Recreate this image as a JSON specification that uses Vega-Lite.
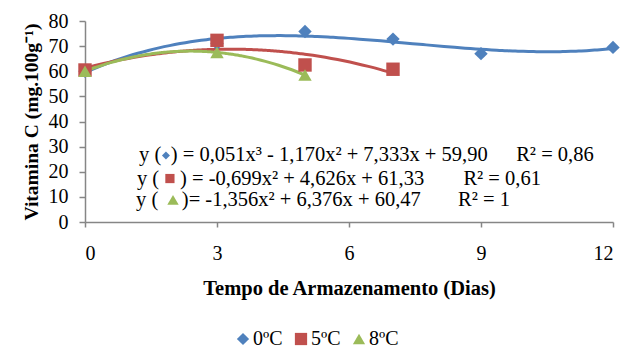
{
  "$schema": "https://vega.github.io/schema/vega-lite/v6.json",
  "autosize": "none",
  "width": 528,
  "height": 201,
  "padding": {"left": 85, "top": 21, "right": 11, "bottom": 128},
  "background": "white",
  "config": {
    "view": {"stroke": null},
    "font": "Liberation Serif",
    "axis": {"grid": false}
  },
  "datasets": {
    "obs": [
      {"dia": 0, "vc": 60.0, "serie": "0ºC"},
      {"dia": 3, "vc": 71.0, "serie": "0ºC"},
      {"dia": 5, "vc": 75.8, "serie": "0ºC"},
      {"dia": 7, "vc": 72.8, "serie": "0ºC"},
      {"dia": 9, "vc": 67.0, "serie": "0ºC"},
      {"dia": 12, "vc": 69.5, "serie": "0ºC"},
      {"dia": 0, "vc": 60.5, "serie": "5ºC"},
      {"dia": 3, "vc": 72.3, "serie": "5ºC"},
      {"dia": 5, "vc": 62.5, "serie": "5ºC"},
      {"dia": 7, "vc": 60.8, "serie": "5ºC"},
      {"dia": 0, "vc": 60.0, "serie": "8ºC"},
      {"dia": 3, "vc": 67.5, "serie": "8ºC"},
      {"dia": 5, "vc": 58.5, "serie": "8ºC"}
    ],
    "notes": [
      {"dia": 1.23, "vc": 26.5, "label": "y ("},
      {"dia": 1.95, "vc": 26.5, "label": ") = 0,051x³ - 1,170x² + 7,333x + 59,90"},
      {"dia": 9.8, "vc": 26.5, "label": "R² = 0,86"},
      {"dia": 1.18, "vc": 17.3, "label": "y  ("},
      {"dia": 2.16, "vc": 17.3, "label": ") = -0,699x² + 4,626x + 61,33"},
      {"dia": 8.6, "vc": 17.3, "label": "R² = 0,61"},
      {"dia": 1.16, "vc": 8.8, "label": "y  ("},
      {"dia": 2.2, "vc": 8.8, "label": ")= -1,356x² + 6,376x + 60,47"},
      {"dia": 8.48, "vc": 8.8, "label": "R² = 1"}
    ],
    "syms": [
      {"dia": 1.84, "vc": 26.5, "serie": "0ºC", "sz": 64},
      {"dia": 1.93, "vc": 17.3, "serie": "5ºC", "sz": 85},
      {"dia": 2.0, "vc": 8.8, "serie": "8ºC", "sz": 130}
    ]
  },
  "encoding": {
    "x": {
      "field": "dia", "type": "quantitative",
      "scale": {"domain": [0, 12], "nice": false, "zero": true},
      "axis": {"values": [0, 3, 6, 9, 12], "title": "Tempo de Armazenamento (Dias)", "labelFont": "Liberation Serif", "titleFont": "Liberation Serif", "labelColor": "black", "titleColor": "black", "domainColor": "#868686", "tickColor": "#868686", "domainWidth": 1.5, "tickWidth": 1.5, "labelFontSize": 20, "titleFontSize": 20.5, "titleFontWeight": "bold", "tickSize": 5, "labelPadding": 16, "titlePadding": 15, "labelOverlap": false, "grid": false}
    },
    "y": {
      "field": "vc", "type": "quantitative",
      "scale": {"domain": [0, 80], "nice": false},
      "axis": {"values": [0, 10, 20, 30, 40, 50, 60, 70, 80], "title": "Vitamina C (mg.100g⁻¹)", "labelFont": "Liberation Serif", "titleFont": "Liberation Serif", "labelColor": "black", "titleColor": "black", "domainColor": "#868686", "tickColor": "#868686", "domainWidth": 1.5, "tickWidth": 1.5, "labelFontSize": 20, "titleFontSize": 19.5, "titleFontWeight": "bold", "tickSize": 6, "labelPadding": 11, "titlePadding": 7, "labelOverlap": false, "grid": false}
    }
  },
  "layer": [
    {
      "data": {"name": "obs"},
      "transform": [
        {"filter": "datum.serie === '0ºC'"},
        {"regression": "vc", "on": "dia", "method": "poly", "order": 3, "groupby": ["serie"]}
      ],
      "mark": {"type": "line", "strokeWidth": 3, "color": "#4F81BD", "interpolate": "monotone"}
    },
    {
      "data": {"name": "obs"},
      "transform": [
        {"filter": "datum.serie === '5ºC'"},
        {"regression": "vc", "on": "dia", "method": "poly", "order": 2, "groupby": ["serie"]}
      ],
      "mark": {"type": "line", "strokeWidth": 3, "color": "#C0504D", "interpolate": "monotone"}
    },
    {
      "data": {"name": "obs"},
      "transform": [
        {"filter": "datum.serie === '8ºC'"},
        {"regression": "vc", "on": "dia", "method": "poly", "order": 2, "groupby": ["serie"]}
      ],
      "mark": {"type": "line", "strokeWidth": 3, "color": "#9BBB59", "interpolate": "monotone"}
    },
    {
      "data": {"name": "obs"},
      "mark": {"type": "point", "filled": true, "opacity": 1, "size": 180},
      "encoding": {
        "color": {
          "field": "serie", "type": "nominal",
          "scale": {"domain": ["0ºC", "5ºC", "8ºC"], "range": ["#4F81BD", "#C0504D", "#9BBB59"]},
          "legend": {"orient": "none", "direction": "horizontal", "legendX": 148, "legendY": 308, "title": null, "labelFontSize": 20, "labelFont": "Liberation Serif", "labelColor": "black", "symbolSize": 150, "symbolStrokeWidth": 0, "columnPadding": 8, "labelOffset": 0}
        },
        "shape": {
          "field": "serie", "type": "nominal",
          "scale": {"domain": ["0ºC", "5ºC", "8ºC"], "range": ["diamond", "square", "triangle-up"]},
          "legend": {"orient": "none", "direction": "horizontal", "legendX": 148, "legendY": 308, "title": null, "labelFontSize": 20, "labelFont": "Liberation Serif", "labelColor": "black", "symbolSize": 150, "symbolStrokeWidth": 0, "columnPadding": 8, "labelOffset": 0}
        }
      }
    },
    {
      "data": {"name": "notes"},
      "mark": {"type": "text", "align": "left", "baseline": "middle", "fontSize": 20.5, "font": "Liberation Serif", "color": "black"},
      "encoding": {
        "text": {"field": "label"}
      }
    },
    {
      "data": {"name": "syms"},
      "mark": {"type": "point", "filled": true, "opacity": 1},
      "encoding": {
        "color": {"field": "serie", "type": "nominal", "legend": null},
        "shape": {"field": "serie", "type": "nominal", "legend": null},
        "size": {"field": "sz", "type": "quantitative", "scale": null, "legend": null}
      }
    }
  ]
}
